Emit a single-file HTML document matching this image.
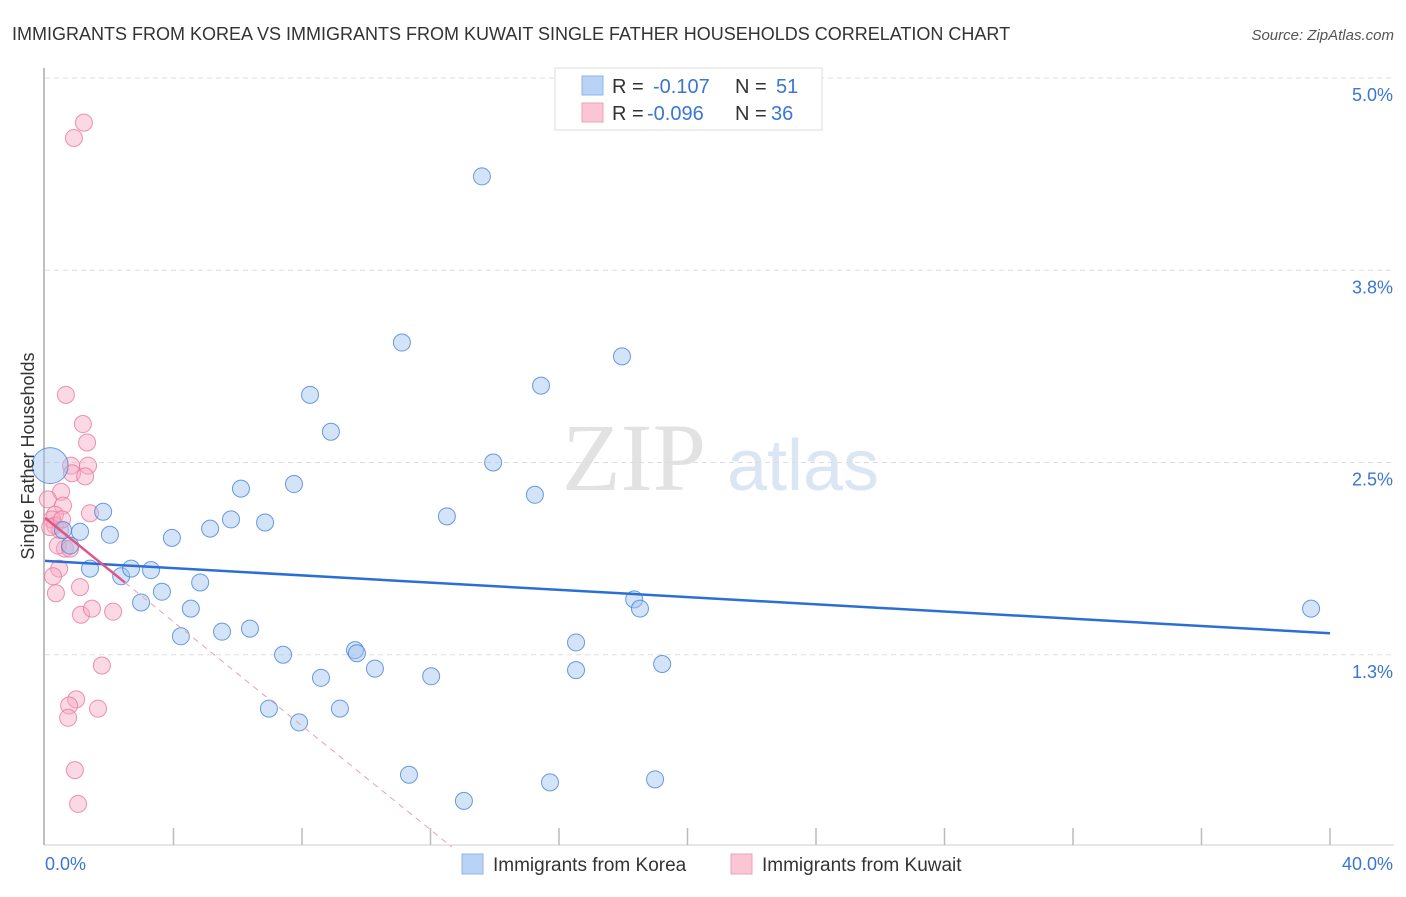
<!DOCTYPE html>
<html><head><meta charset="utf-8"><style>
body{margin:0;background:#fff;font-family:"Liberation Sans",sans-serif}
svg text{font-family:"Liberation Sans",sans-serif}
</style></head><body>
<svg id="chart" width="1406" height="892" xmlns="http://www.w3.org/2000/svg">
<text x="12" y="40" font-size="18" fill="#333">IMMIGRANTS FROM KOREA VS IMMIGRANTS FROM KUWAIT SINGLE FATHER HOUSEHOLDS CORRELATION CHART</text>
<text x="1394" y="40" font-size="15" fill="#555" text-anchor="end" font-style="italic">Source: ZipAtlas.com</text>
<g>
<text x="634" y="490" font-size="96" fill="#e2e2e2" text-anchor="middle" font-family="Liberation Serif" style="font-family:'Liberation Serif',serif">ZIP</text>
<text x="803" y="490" font-size="72" fill="#dbe6f5" text-anchor="middle">atlas</text>
</g>
<g id="grid"></g>
<g id="axes"></g>
<g id="points"></g>
<g id="trends"></g>
<text transform="translate(34,456) rotate(-90)" font-size="18" fill="#333" text-anchor="middle">Single Father Households</text>
<g>
<rect x="555" y="68" width="267" height="62" fill="#fff" stroke="#ddd"/>
<rect x="582" y="76" width="21" height="19" fill="#b9d3f6" stroke="#8fb4e6"/>
<rect x="582" y="103" width="21" height="19" fill="#fac5d4" stroke="#eea2b8"/>
<text x="612" y="93" font-size="20" fill="#333">R =</text><text x="653" y="93" font-size="20" fill="#3a76d2">-0.107</text>
<text x="735" y="93" font-size="20" fill="#333">N =</text><text x="776" y="93" font-size="20" fill="#3a76d2">51</text>
<text x="612" y="120" font-size="20" fill="#333">R =</text><text x="647" y="120" font-size="20" fill="#3a76d2">-0.096</text>
<text x="735" y="120" font-size="20" fill="#333">N =</text><text x="771" y="120" font-size="20" fill="#3a76d2">36</text>
</g>
<g>
<rect x="462" y="854" width="21" height="20" fill="#b9d3f6" stroke="#8fb4e6"/>
<text x="493" y="871" font-size="19" fill="#333">Immigrants from Korea</text>
<rect x="731" y="854" width="21" height="20" fill="#fac5d4" stroke="#eea2b8"/>
<text x="762" y="871" font-size="19" fill="#333">Immigrants from Kuwait</text>
</g>
</svg>
<script>
const blueX=[0.16,1.81,1.09,2.02,0.78,0.56,1.40,2.37,2.68,3.30,3.95,2.99,3.64,4.23,4.54,4.83,5.14,5.51,5.79,6.10,6.38,6.85,7.41,7.75,6.97,7.91,8.25,8.59,8.90,9.18,9.65,9.71,10.27,11.11,11.33,12.02,12.51,13.04,13.60,13.95,15.25,15.44,15.72,16.53,16.53,17.96,18.34,18.52,18.99,19.21,39.41];
const blueY=[2.48,2.18,2.05,2.03,1.96,2.06,1.81,1.76,1.81,1.80,2.01,1.59,1.66,1.37,1.55,1.72,2.07,1.40,2.13,2.33,1.42,2.11,1.25,2.36,0.90,0.81,2.94,1.10,2.70,0.90,1.28,1.26,1.16,3.28,0.47,1.11,2.15,0.30,4.36,2.50,2.29,3.00,0.42,1.33,1.15,3.19,1.61,1.55,0.44,1.19,1.55];
const blueSize=[18,8.5,8.5,8.5,8.5,8.5,8.5,8.5,8.5,8.5,8.5,8.5,8.5,8.5,8.5,8.5,8.5,8.5,8.5,8.5,8.5,8.5,8.5,8.5,8.5,8.5,8.5,8.5,8.5,8.5,8.5,8.5,8.5,8.5,8.5,8.5,8.5,8.5,8.5,8.5,8.5,8.5,8.5,8.5,8.5,8.5,8.5,8.5,8.5,8.5,8.5];
const pinkX=[0.90,1.21,0.65,1.18,1.31,0.81,1.34,0.84,1.25,0.50,0.09,0.56,1.40,0.31,0.22,0.31,0.47,0.16,0.62,0.44,0.25,1.09,0.34,1.12,1.46,2.12,1.77,0.97,0.75,1.65,0.72,0.93,1.03,0.53,0.40,0.78];
const pinkY=[4.61,4.71,2.94,2.75,2.63,2.48,2.48,2.43,2.41,2.31,2.26,2.22,2.17,2.16,2.13,2.09,2.06,2.08,1.94,1.81,1.76,1.69,1.65,1.51,1.55,1.53,1.18,0.96,0.92,0.90,0.84,0.50,0.28,2.13,1.96,1.94];
const blueTrend=[1.86,1.39];
const pinkTrend=[2.14,-0.169];
const yTicks=[1.25,2.5,3.75,5.0];
const yTickLabels=["1.3%","2.5%","3.8%","5.0%"];
const xTicks=[0,4,8,12,16,20,24,28,32,36,40];
const NS="http://www.w3.org/2000/svg";
const X0=45,X1=1330,Y0=847,PXPER=153.8;
const xs=v=>X0+(v/40)*(X1-X0);
const ys=v=>Y0-v*PXPER;
function mk(tag,attrs,parent){const e=document.createElementNS(NS,tag);for(const k in attrs)e.setAttribute(k,attrs[k]);parent.appendChild(e);return e;}
const grid=document.getElementById('grid'),axes=document.getElementById('axes'),pts=document.getElementById('points'),tr=document.getElementById('trends');
yTicks.forEach((t,i)=>{
 const l=mk('line',{x1:45,x2:1394,y1:ys(t),y2:ys(t),stroke:'#ddd','stroke-dasharray':'5,4'},grid);
 
 
 const tx=mk('text',{x:1393,y:ys(t)+23,'font-size':18,fill:'#3a76d2','text-anchor':'end'},axes);
 tx.textContent=yTickLabels[i];
 
 
});
const ax=mk('line',{x1:44,x2:44,y1:68,y2:845,stroke:'#aaa','stroke-width':1.5},axes);


const bx=mk('line',{x1:44,x2:1394,y1:845,y2:845,stroke:'#ccc'},axes);


xTicks.forEach(t=>{
 if(t===0)return;
 const l=mk('line',{x1:xs(t),x2:xs(t),y1:828,y2:845,stroke:'#bbb','stroke-width':1.5},axes);
 
 
});
const xl0=mk('text',{x:45,y:870,'font-size':18,fill:'#3a76d2'},axes);xl0.textContent='0.0%';


const xl1=mk('text',{x:1393,y:870,'font-size':18,fill:'#3a76d2','text-anchor':'end'},axes);xl1.textContent='40.0%';


pinkX.forEach((v,i)=>{
 const c=mk('circle',{cx:xs(v),cy:ys(pinkY[i]),r:8.5,fill:'rgba(246,170,195,0.45)',stroke:'rgba(232,120,155,0.8)','stroke-width':1},pts);
 
 
});
blueX.forEach((v,i)=>{
 const c=mk('circle',{cx:xs(v),cy:ys(blueY[i]),r:blueSize[i],fill:'rgba(160,195,240,0.45)',stroke:'rgba(70,130,215,0.8)','stroke-width':1},pts);
 
 
});
const bl=mk('line',{x1:xs(0),y1:ys(blueTrend[0]),x2:xs(40),y2:ys(blueTrend[1]),stroke:'#2b6fd6','stroke-width':2.5},tr);


const pe=(0-pinkTrend[0])/pinkTrend[1];
const pd=mk('line',{x1:xs(2.49),y1:ys(pinkTrend[0]+pinkTrend[1]*2.49),x2:xs(pe),y2:ys(0),stroke:'#e8a0b8','stroke-width':1,'stroke-dasharray':'6,5'},tr);


const ps=mk('line',{x1:xs(0),y1:ys(pinkTrend[0]),x2:xs(2.49),y2:ys(pinkTrend[0]+pinkTrend[1]*2.49),stroke:'#e05585','stroke-width':2.5},tr);


</script>
</body></html>
